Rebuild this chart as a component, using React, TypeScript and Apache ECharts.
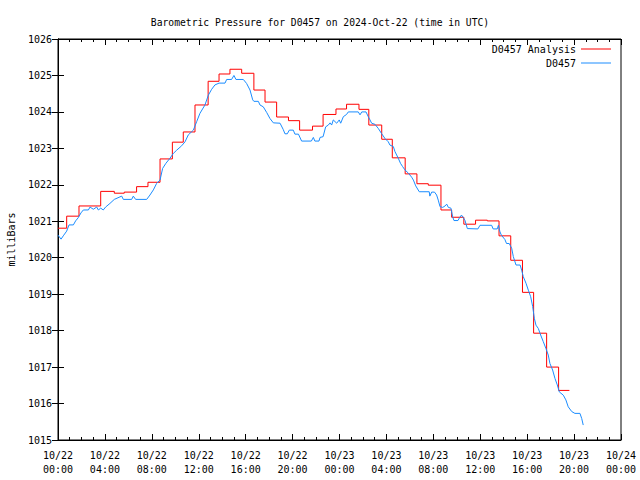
import React, { useEffect, useRef } from "react";
import * as echarts from "echarts";

// Hours since 2024-10-22 00:00 UTC
const analysisTimes = [0, 0.74, 1.79, 3.64, 4.8, 5.65, 6.7, 7.67, 8.7, 9.75, 10.68, 11.68, 12.8, 13.73, 14.66, 15.66, 16.7, 17.65, 18.64, 19.65, 20.6, 21.7, 22.6, 23.7, 24.6, 25.66, 26.5, 27.6, 28.5, 29.6, 30.6, 31.57, 32.65, 33.56, 34.6, 35.6, 36.6, 37.6, 38.6, 39.6, 40.55, 41.66, 42.68, 43.6];
const analysisValues = [1020.81, 1021.14, 1021.42, 1021.82, 1021.77, 1021.8, 1021.95, 1022.07, 1022.71, 1023.17, 1023.45, 1024.19, 1024.84, 1025.04, 1025.17, 1025.06, 1024.6, 1024.27, 1023.86, 1023.76, 1023.5, 1023.61, 1023.93, 1024.08, 1024.21, 1024.07, 1023.64, 1023.25, 1022.74, 1022.3, 1022.03, 1021.99, 1021.31, 1021.11, 1020.92, 1021.03, 1021.01, 1020.6, 1019.93, 1019.05, 1017.93, 1017.0, 1016.36, 1016.36];

const obsTimes = [0, 0.26, 0.45, 0.74, 0.94, 1.31, 1.5, 1.73, 1.96, 2.16, 2.59, 2.73, 3.01, 3.3, 3.44, 3.64, 3.86, 4.06, 4.43, 4.8, 5.43, 5.57, 6.28, 6.42, 6.62, 7.56, 7.84, 8.13, 8.41, 8.7, 8.92, 9.2, 9.55, 9.83, 10.12, 10.54, 10.83, 11.11, 11.54, 11.82, 12.1, 12.53, 12.82, 13.1, 13.38, 13.73, 14.24, 14.38, 14.8, 15.0, 15.17, 15.8, 16.08, 16.37, 16.6, 16.7, 17.08, 17.22, 17.5, 17.8, 18.07, 18.36, 18.93, 19.2, 19.35, 19.55, 19.72, 20.06, 20.2, 20.5, 20.77, 21.6, 21.77, 21.9, 22.25, 22.34, 22.6, 22.82, 23.05, 23.2, 23.33, 23.47, 23.76, 23.98, 24.1, 24.33, 24.6, 24.75, 25.6, 25.75, 25.9, 26.26, 26.45, 26.6, 26.74, 27.02, 27.3, 27.6, 27.88, 28.16, 28.3, 28.59, 28.73, 29.01, 29.2, 29.38, 29.58, 29.87, 30.15, 30.3, 30.5, 30.8, 31.65, 31.7, 31.86, 32.1, 32.28, 32.42, 32.57, 32.8, 33.0, 33.14, 33.28, 33.5, 33.65, 33.76, 34.1, 34.24, 34.4, 34.55, 34.7, 34.9, 35.8, 35.98, 36.97, 37.1, 37.45, 37.55, 37.68, 37.8, 38.1, 38.24, 38.47, 38.68, 38.82, 39.05, 39.4, 39.53, 39.67, 39.9, 40.1, 40.3, 40.47, 40.61, 40.75, 40.95, 41.15, 41.37, 41.6, 41.8, 41.94, 42.17, 42.37, 42.57, 42.74, 43.08, 43.3, 43.5, 43.8, 44.07, 44.5, 44.65, 44.78];
const obsValues = [1020.62, 1020.51, 1020.6, 1020.73, 1020.9, 1020.9, 1021.01, 1021.1, 1021.23, 1021.31, 1021.31, 1021.39, 1021.33, 1021.39, 1021.31, 1021.36, 1021.31, 1021.39, 1021.49, 1021.6, 1021.69, 1021.6, 1021.6, 1021.69, 1021.6, 1021.6, 1021.72, 1021.86, 1022.04, 1022.13, 1022.45, 1022.59, 1022.73, 1022.86, 1022.95, 1023.07, 1023.18, 1023.37, 1023.5, 1023.73, 1023.96, 1024.19, 1024.46, 1024.62, 1024.74, 1024.79, 1024.79, 1024.89, 1024.89, 1025.0, 1024.89, 1024.89, 1024.78, 1024.6, 1024.33, 1024.29, 1024.29, 1024.19, 1024.14, 1023.98, 1023.82, 1023.7, 1023.69, 1023.52, 1023.4, 1023.4, 1023.5, 1023.5, 1023.39, 1023.39, 1023.2, 1023.2, 1023.3, 1023.2, 1023.2, 1023.3, 1023.32, 1023.59, 1023.64, 1023.7, 1023.64, 1023.78, 1023.69, 1023.78, 1023.69, 1023.87, 1023.93, 1024.0, 1024.0, 1023.92, 1024.0, 1024.0, 1023.87, 1023.78, 1023.69, 1023.66, 1023.55, 1023.4, 1023.27, 1023.18, 1023.09, 1023.05, 1022.91, 1022.73, 1022.59, 1022.5, 1022.41, 1022.32, 1022.21, 1022.13, 1021.97, 1021.81, 1021.81, 1021.69, 1021.8, 1021.8, 1021.72, 1021.58, 1021.4, 1021.38, 1021.42, 1021.47, 1021.38, 1021.36, 1021.12, 1021.02, 1021.02, 1021.1, 1021.17, 1021.1, 1021.02, 1020.8, 1020.79, 1020.89, 1020.89, 1020.79, 1020.79, 1020.89, 1020.71, 1020.62, 1020.5, 1020.39, 1020.39, 1020.26, 1020.03, 1019.8, 1019.8, 1019.66, 1019.48, 1019.3, 1019.11, 1018.93, 1018.66, 1018.34, 1018.15, 1018.06, 1017.88, 1017.7, 1017.51, 1017.33, 1017.1, 1016.92, 1016.69, 1016.51, 1016.32, 1016.23, 1016.1, 1015.91, 1015.78, 1015.73, 1015.73, 1015.59, 1015.41];

const xLabelDays = ["10/22", "10/22", "10/22", "10/22", "10/22", "10/22", "10/23", "10/23", "10/23", "10/23", "10/23", "10/23", "10/24"];
const xLabelTimes = ["00:00", "04:00", "08:00", "12:00", "16:00", "20:00", "00:00", "04:00", "08:00", "12:00", "16:00", "20:00", "00:00"];

const seriesNames = ["D0457 Analysis", "D0457"];
const titleText = "Barometric Pressure for D0457 on 2024-Oct-22 (time in UTC)";
const yAxisName = "milliBars";

const FONT = "DejaVu Sans Mono";
const RED = "#ff0000";
const BLUE = "#1a8cff";

export default function App() {
  const ref = useRef<HTMLDivElement>(null);
  useEffect(() => {
    if (!ref.current) return;
    const chart = echarts.init(ref.current, null, { renderer: "svg" });
    const tickCommon = {
      axisLine: { show: true, lineStyle: { color: "#000", width: 1 } },
      splitLine: { show: false },
    };
    chart.setOption({
      animation: false,
      backgroundColor: "#fff",
      textStyle: { fontFamily: FONT, color: "#000" },
      title: {
        text: titleText,
        left: "center",
        top: 12,
        textStyle: { fontFamily: FONT, fontSize: 9.7, fontWeight: "normal", color: "#000" },
      },
      legend: {
        orient: "vertical",
        right: 29,
        top: 42,
        padding: 0,
        itemGap: 0,
        align: "right",
        icon: "rect",
        itemWidth: 30,
        itemHeight: 1,
        textStyle: { fontFamily: FONT, fontSize: 10, color: "#000", lineHeight: 14 },
        data: seriesNames,
      },
      grid: {
        left: 58,
        right: 19,
        top: 39,
        bottom: 40,
        containLabel: false,
        outerBoundsMode: "none",
        show: true,
        borderColor: "#000",
        borderWidth: 1,
      },
      xAxis: [
        {
          type: "value",
          min: 0,
          max: 48,
          interval: 4,
          ...tickCommon,
          axisTick: { show: true, inside: true, length: 6, lineStyle: { color: "#000" } },
          minorTick: { show: true, splitNumber: 4, length: 3, lineStyle: { color: "#000" } },
          axisLabel: {
            fontFamily: FONT,
            fontSize: 10,
            color: "#000",
            lineHeight: 14,
            margin: 8,
            formatter: (v: number) => {
              const i = Math.round(v / 4);
              return xLabelDays[i] + "\n" + xLabelTimes[i];
            },
          },
        },
        {
          type: "value",
          position: "top",
          min: 0,
          max: 48,
          interval: 4,
          ...tickCommon,
          axisTick: { show: true, inside: true, length: 6, lineStyle: { color: "#000" } },
          minorTick: { show: true, splitNumber: 4, length: 3, lineStyle: { color: "#000" } },
          axisLabel: { show: false },
        },
      ],
      yAxis: [
        {
          type: "value",
          min: 1015,
          max: 1026,
          interval: 1,
          ...tickCommon,
          name: yAxisName,
          nameLocation: "middle",
          nameGap: 42,
          nameTextStyle: { fontFamily: FONT, fontSize: 10, color: "#000" },
          axisTick: { show: true, inside: true, length: 6, lineStyle: { color: "#000" } },
          axisLabel: {
            fontFamily: FONT,
            fontSize: 10,
            color: "#000",
            margin: 6,
            formatter: (v: number) => String(v),
          },
        },
        {
          type: "value",
          position: "right",
          min: 1015,
          max: 1026,
          interval: 1,
          ...tickCommon,
          axisTick: { show: true, inside: true, length: 6, lineStyle: { color: "#000" } },
          axisLabel: { show: false },
        },
      ],
      series: [
        {
          name: seriesNames[0],
          type: "line",
          step: "end",
          showSymbol: false,
          symbol: "none",
          color: RED,
          lineStyle: { color: RED, width: 1 },
          data: analysisTimes.map((t, i) => [t, analysisValues[i]]),
        },
        {
          name: seriesNames[1],
          type: "line",
          showSymbol: false,
          symbol: "none",
          color: BLUE,
          lineStyle: { color: BLUE, width: 1 },
          data: obsTimes.map((t, i) => [t, obsValues[i]]),
        },
      ],
    });
    return () => chart.dispose();
  }, []);
  return <div ref={ref} style={{ width: 640, height: 480, position: "absolute", left: 0, top: 0 }} />;
}
